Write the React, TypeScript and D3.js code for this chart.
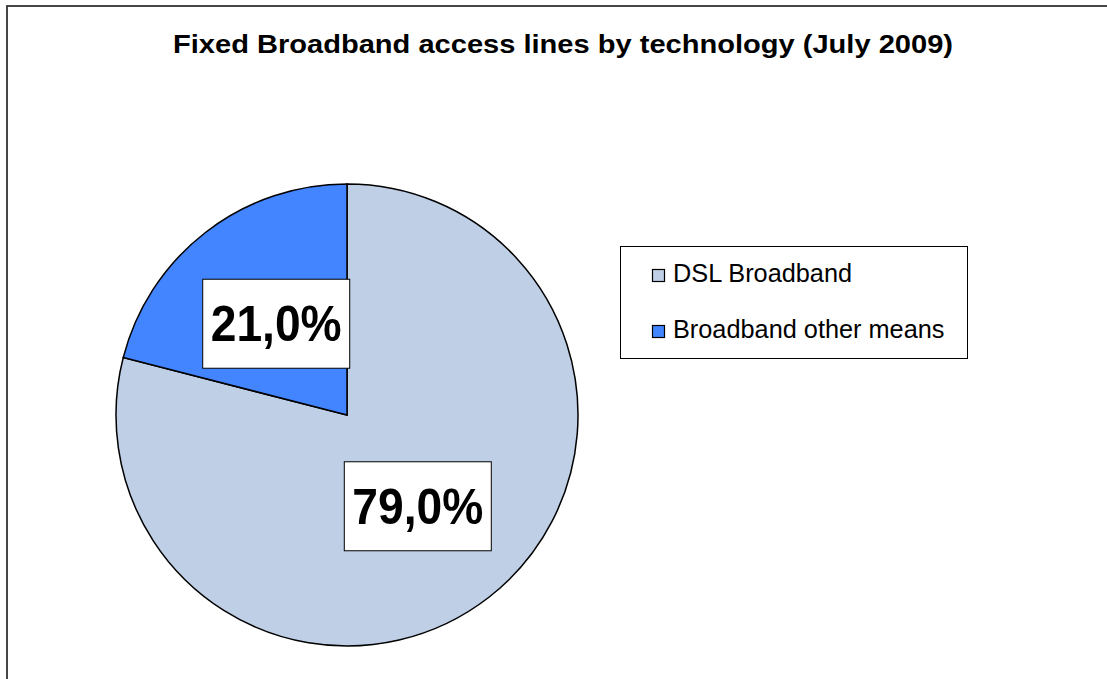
import React from "react";
import * as d3 from "d3";

const categories: string[] = ["DSL Broadband", "Broadband other means"];
const values: number[] = [79, 21];
const labels: string[] = ["79,0%", "21,0%"];
const colors: string[] = ["#BFCFE6", "#4384FF"];
const title = "Fixed Broadband access lines by technology (July 2009)";

const W = 1107;
const H = 679;

export default function App() {
  const cx = 347;
  const cy = 415;
  const r = 231;

  const pie = d3
    .pie<number>()
    .sort(null)
    .value((d) => d);
  const arcs = pie(values);
  const arcGen = d3.arc<d3.PieArcDatum<number>>().innerRadius(0).outerRadius(r);

  const font = "'Liberation Sans', Arial, Helvetica, sans-serif";
  const boxW = 147;
  const boxH = 89;

  return (
    <svg
      width={W}
      height={H}
      style={{ position: "absolute", left: 0, top: 0, background: "#fff" }}
    >
      <rect x={7} y={6} width={1116} height={700} fill="#fff" stroke="#333" strokeWidth={1.8} />
      <text
        x={563}
        y={53}
        textAnchor="middle"
        fontFamily={font}
        fontWeight="bold"
        fontSize={25.5}
        textLength={780}
        lengthAdjust="spacingAndGlyphs"
        fill="#000"
      >
        {title}
      </text>
      <g transform={`translate(${cx},${cy})`}>
        {arcs.map((a, i) => (
          <path key={i} d={arcGen(a) || ""} fill={colors[i]} stroke="#000" strokeWidth={1.5} />
        ))}
        {arcs.map((a, i) => {
          const [x, y] = arcGen.centroid(a);
          return (
            <g key={"l" + i} transform={`translate(${x},${y})`}>
              <rect
                x={-boxW / 2}
                y={-boxH / 2}
                width={boxW}
                height={boxH}
                fill="#fff"
                stroke="#000"
                strokeWidth={1}
              />
              <text
                x={0}
                y={17.5}
                textAnchor="middle"
                fontFamily={font}
                fontWeight="bold"
                fontSize={50}
                textLength={131}
                lengthAdjust="spacingAndGlyphs"
                fill="#000"
              >
                {labels[i]}
              </text>
            </g>
          );
        })}
      </g>
      <g>
        <rect x={620.5} y={246.5} width={347} height={112} fill="#fff" stroke="#000" strokeWidth={1} />
        {categories.map((c, i) => (
          <g key={c} transform={`translate(0,${i * 56})`}>
            <rect x={652.5} y={269.5} width={12} height={12} fill={colors[i]} stroke="#000" strokeWidth={1.2} />
            <text x={673} y={282} fontFamily={font} fontSize={25.3} fill="#000">
              {c}
            </text>
          </g>
        ))}
      </g>
    </svg>
  );
}
